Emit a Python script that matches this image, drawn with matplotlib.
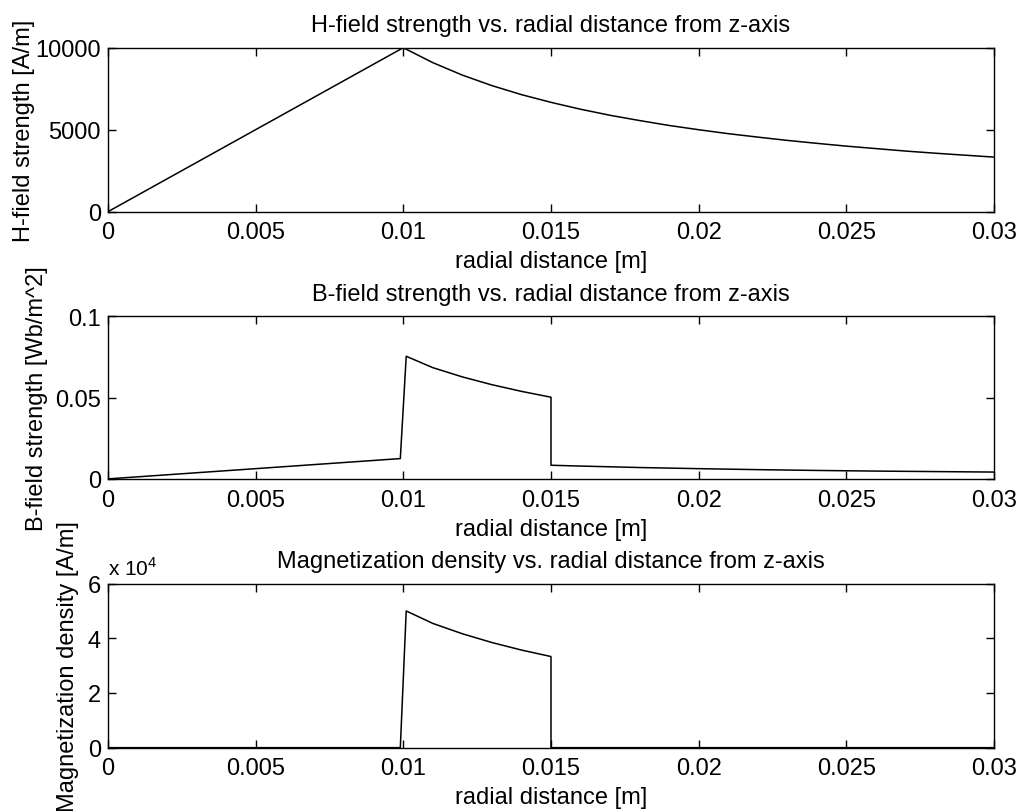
import matplotlib
matplotlib.use("Agg")
import matplotlib.pyplot as plt
from matplotlib.ticker import FormatStrFormatter, FuncFormatter

plt.rcParams['font.family'] = ['Liberation Sans', 'DejaVu Sans']
plt.rcParams['mathtext.fontset'] = 'custom'
plt.rcParams['mathtext.rm'] = 'Liberation Sans'

# values
r_h = [0.0, 0.002, 0.004, 0.006, 0.008, 0.010, 0.011, 0.012, 0.013, 0.014, 0.015,
       0.016, 0.017, 0.018, 0.019, 0.020, 0.021, 0.022, 0.023, 0.024, 0.025,
       0.026, 0.027, 0.028, 0.029, 0.030]
h_field = [0, 2000, 4000, 6000, 8000, 10000, 9090, 8330, 7690, 7140, 6670,
           6250, 5880, 5560, 5260, 5000, 4760, 4550, 4350, 4170, 4000,
           3850, 3700, 3570, 3450, 3330]

r_b = [0.0, 0.005, 0.0099, 0.0101, 0.011, 0.012, 0.013, 0.014, 0.015, 0.015,
       0.016, 0.018, 0.020, 0.022, 0.024, 0.026, 0.028, 0.030]
b_field = [0.0, 0.0063, 0.0125, 0.0755, 0.0685, 0.0628, 0.058, 0.0539, 0.0503, 0.0084,
           0.0079, 0.0070, 0.0063, 0.0057, 0.0052, 0.0048, 0.0045, 0.0042]

r_m = [0.0, 0.0099, 0.0101, 0.011, 0.012, 0.013, 0.014, 0.015, 0.015, 0.030]
m_dens = [0, 0, 50000, 45450, 41670, 38460, 35710, 33330, 0, 0]

x_ticks = [0, 0.005, 0.01, 0.015, 0.02, 0.025, 0.03]

titles = ['H-field strength vs. radial distance from z-axis',
          'B-field strength vs. radial distance from z-axis',
          'Magnetization density vs. radial distance from z-axis']
ylabels = ['H-field strength [A/m]', 'B-field strength [Wb/m^2]',
           'Magnetization density [A/m]']

fs = 17

fig = plt.figure(figsize=(10.27, 8.12), dpi=100)
ax1 = fig.add_axes([0.105, 0.738, 0.863, 0.202])
ax2 = fig.add_axes([0.105, 0.409, 0.863, 0.200])
ax3 = fig.add_axes([0.105, 0.078, 0.863, 0.202])

ax1.plot(r_h, h_field, color='black', lw=1.1)
ax2.plot(r_b, b_field, color='black', lw=1.1)
ax3.plot(r_m, m_dens, color='black', lw=1.1)

ax1.set_ylim(0, 10000)
ax1.set_yticks([0, 5000, 10000])
ax2.set_ylim(0, 0.1)
ax2.set_yticks([0, 0.05, 0.1])
ax2.yaxis.set_major_formatter(FormatStrFormatter('%g'))
ax3.set_ylim(0, 60000)
ax3.set_yticks([0, 20000, 40000, 60000])
ax3.yaxis.set_major_formatter(FuncFormatter(lambda v, p: '%g' % (v / 1e4)))
ax3.text(0.0, 1.03, 'x 10$^{4}$', transform=ax3.transAxes, fontsize=15,
         ha='left', va='bottom')

# right edge of each rotated y label, in axes units
label_x = [-0.082, -0.068, -0.032]
for ax, t, yl, lx in zip([ax1, ax2, ax3], titles, ylabels, label_x):
    ax.set_xlim(0, 0.03)
    ax.set_xticks(x_ticks)
    ax.xaxis.set_major_formatter(FormatStrFormatter('%g'))
    ax.tick_params(direction='in', length=6, width=1, top=True, right=True,
                   labelsize=fs)
    ax.tick_params(axis='x', pad=7)
    ax.tick_params(axis='y', pad=5)
    ax.set_title(t, fontsize=fs, pad=12)
    ax.set_xlabel('radial distance [m]', fontsize=fs, labelpad=5)
    ax.set_ylabel(yl, fontsize=fs)
    ax.yaxis.set_label_coords(lx, 0.5)
    for s in ax.spines.values():
        s.set_linewidth(1.0)

fig.savefig('out.png', dpi=100)
